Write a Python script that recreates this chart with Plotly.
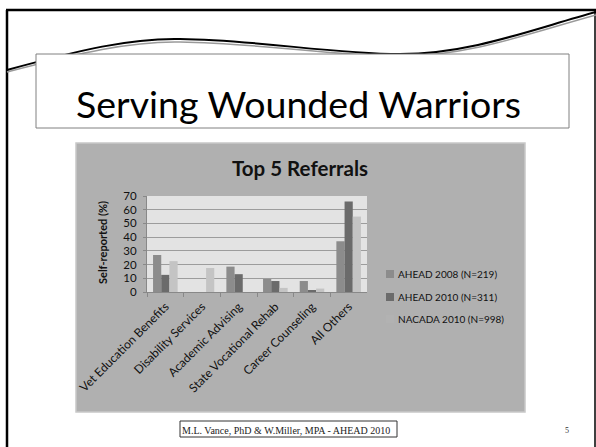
import plotly.graph_objects as go

categories = ["Vet Education Benefits", "Disability Services", "Academic Advising",
              "State Vocational Rehab", "Career Counseling", "All Others"]
ahead_2008 = [27, 0, 18.5, 9.5, 8, 37]
ahead_2010 = [12.5, 0, 13, 8, 1, 66]
nacada_2010 = [22.5, 17.5, 0, 3, 2.5, 55]
series_names = ["AHEAD 2008 (N=219)", "AHEAD 2010 (N=311)", "NACADA 2010 (N=998)"]
y_ticks = [0, 10, 20, 30, 40, 50, 60, 70]

W, H = 596, 447


def px(x):
    return x / W


def py(y):
    return 1 - y / H


fig = go.Figure()
colors = ["#8c8c8c", "#6b6b6b", "#c4c4c4"]
legend_marker_colors = ["#8c8c8c", "#6b6b6b", "#b2b2b2"]
for i, (name, vals) in enumerate(zip(series_names, [ahead_2008, ahead_2010, nacada_2010])):
    fig.add_trace(go.Bar(x=categories, y=vals, name=name, marker_color=colors[i],
                         marker_line_width=0, showlegend=False))

shapes = []


def rect(x0, y0, x1, y1, fill, line, lw=1):
    shapes.append(dict(type="rect", xref="paper", yref="paper", x0=px(x0), x1=px(x1),
                       y0=py(y1), y1=py(y0), fillcolor=fill,
                       line=dict(color=line, width=lw), layer="below"))


def path(points_str, color, width):
    shapes.append(dict(type="path", xref="paper", yref="paper", path=points_str,
                       line=dict(color=color, width=width), layer="below"))


def P(x, y):
    return f"{px(x):.5f},{py(y):.5f}"


# slide frame
shapes.append(dict(type="line", xref="paper", yref="paper", x0=px(7), x1=px(7), y0=0, y1=py(10),
                   line=dict(color="black", width=2.5), layer="below"))
shapes.append(dict(type="line", xref="paper", yref="paper", x0=px(6), x1=1, y0=py(10), y1=py(10),
                   line=dict(color="black", width=2.5), layer="below"))
shapes.append(dict(type="line", xref="paper", yref="paper", x0=px(595), x1=px(595), y0=0, y1=py(10),
                   line=dict(color="black", width=1.5), layer="below"))

# wave lines
path(f"M {P(7,72)} C {P(80,53)} {P(130,41)} {P(180,42)} C {P(260,43)} {P(330,56)} {P(400,56)} "
     f"C {P(470,56)} {P(530,33)} {P(596,15)}", "#9a9a9a", 1.5)
path(f"M {P(7,70)} C {P(80,50)} {P(130,38)} {P(180,39)} C {P(260,40)} {P(330,54)} {P(400,54)} "
     f"C {P(470,54)} {P(530,30)} {P(596,12)}", "black", 2)

# title box
rect(36, 54, 569, 128, "white", "#808080", 1)
# chart box
rect(76, 143, 525, 412, "#b0b0b0", "#c8c8c8", 1.5)
# plot area background
rect(147, 196, 367, 292, "#e3e3e3", "#e3e3e3", 0)
# footer box
rect(180, 421, 397, 437, "white", "#333333", 1)

# legend markers (hand-placed legend)
legend_rows = [274, 297, 319]
for i, yy in enumerate(legend_rows):
    rect(386, yy - 4, 394, yy + 4, legend_marker_colors[i], legend_marker_colors[i], 0)

annotations = [
    dict(text="Serving Wounded Warriors", x=px(298), y=py(104), xref="paper", yref="paper",
         showarrow=False, font=dict(family="Lato", size=37.5, color="black"),
         xanchor="center", yanchor="middle"),
    dict(text="<b>Top 5 Referrals</b>", x=px(300), y=py(168), xref="paper", yref="paper",
         showarrow=False, font=dict(family="Lato", size=20.5, color="#111111"),
         xanchor="center", yanchor="middle"),
    dict(text="<b>Self-reported (%)</b>", x=px(102), y=py(243), xref="paper", yref="paper",
         showarrow=False, textangle=-90, font=dict(family="Lato", size=11, color="#111111"),
         xanchor="center", yanchor="middle"),
    dict(text="M.L. Vance, PhD &amp; W.Miller, MPA - AHEAD 2010", x=px(180), y=py(430),
         xref="paper", yref="paper", showarrow=False,
         font=dict(family="Liberation Serif", size=10, color="#222222"),
         xanchor="left", yanchor="middle"),
    dict(text="5", x=px(567), y=py(430), xref="paper", yref="paper", showarrow=False,
         font=dict(family="Liberation Serif", size=8, color="#333333"),
         xanchor="center", yanchor="middle"),
]
for name, yy in zip(series_names, legend_rows):
    annotations.append(dict(text=name, x=px(396), y=py(yy), xref="paper", yref="paper",
                            showarrow=False, xanchor="left", yanchor="middle",
                            font=dict(family="Lato", size=10, color="#111111")))

fig.update_layout(
    shapes=shapes,
    width=W, height=H,
    margin=dict(l=0, r=0, t=0, b=0, autoexpand=False),
    paper_bgcolor="white",
    plot_bgcolor="rgba(0,0,0,0)",
    barmode="group",
    bargap=0.33,
    bargroupgap=0,
    annotations=annotations,
    font=dict(family="Lato", size=11, color="#111111"),
    xaxis=dict(domain=[px(147), px(367)], tickangle=-45, tickson="boundaries",
               ticks="outside", ticklen=4, tickcolor="#888888", showline=True,
               linecolor="#888888", linewidth=1, showgrid=False, automargin=False,
               ticklabelstandoff=2,
               tickfont=dict(family="Lato", size=12, color="#111111")),
    yaxis=dict(domain=[py(292), py(196)], range=[0, 70], tickvals=y_ticks,
               showgrid=True, gridcolor="#9c9c9c", gridwidth=1, zeroline=False,
               showline=True, linecolor="#888888", ticks="outside", ticklen=3,
               tickcolor="#888888", automargin=False, ticklabelstandoff=4,
               tickfont=dict(family="Lato", size=11.5, color="#111111")),
    showlegend=False,
)

fig.write_html("out.html", post_script="document.body.style.margin='0';",
               config={"displayModeBar": False})
